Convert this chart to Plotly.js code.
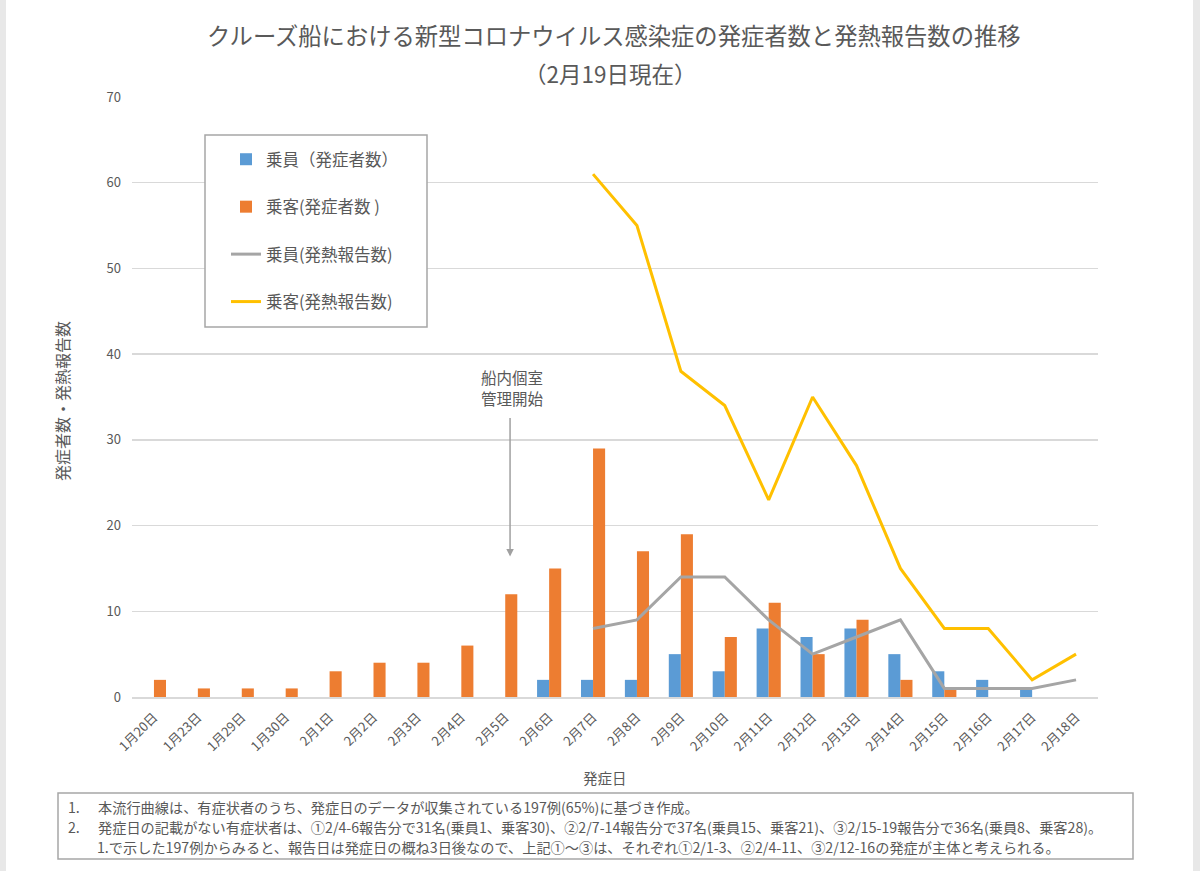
<!DOCTYPE html>
<html>
<head>
<meta charset="utf-8">
<script src="https://cdn.plot.ly/plotly-3.0.1.min.js"></script>
<style>
html,body{margin:0;padding:0;background:#fff;}
#chart{width:1200px;height:871px;}
</style>
</head>
<body>
<div id="chart"></div>
<script>
var categories = ["1月20日","1月23日","1月29日","1月30日","2月1日","2月2日","2月3日","2月4日","2月5日","2月6日","2月7日","2月8日","2月9日","2月10日","2月11日","2月12日","2月13日","2月14日","2月15日","2月16日","2月17日","2月18日"];
var crewOnset      = [0,0,0,0,0,0,0,0,0,2,2,2,5,3,8,7,8,5,3,2,1,0];
var passengerOnset = [2,1,1,1,3,4,4,6,12,15,29,17,19,7,11,5,9,2,1,0,0,0];
var crewFever      = [null,null,null,null,null,null,null,null,null,null,8,9,14,14,9,5,7,9,1,1,1,2];
var passengerFever = [null,null,null,null,null,null,null,null,null,null,61,55,38,34,23,35,27,15,8,8,2,5];
var seriesNames = ["乗員（発症者数）","乗客(発症者数 )","乗員(発熱報告数)","乗客(発熱報告数)"];
var noteLines = [
  "本流行曲線は、有症状者のうち、発症日のデータが収集されている197例(65%)に基づき作成。",
  "発症日の記載がない有症状者は、①2/4-6報告分で31名(乗員1、乗客30)、②2/7-14報告分で37名(乗員15、乗客21)、③2/15-19報告分で36名(乗員8、乗客28)。",
  "1.で示した197例からみると、報告日は発症日の概ね3日後なので、上記①～③は、それぞれ①2/1-3、②2/4-11、③2/12-16の発症が主体と考えられる。"
];
var noteNumbers = ["1.","2.",""];
var markerLines = ["船内個室","管理開始"];

var FONT = '"Noto Sans CJK JP", "Noto Sans", sans-serif';
var GREY = '#595959';

var traces = [
  {type:'bar', name:seriesNames[0], x:categories, y:crewOnset, marker:{color:'#5b9bd5'}, legendgroup:'a'},
  {type:'bar', name:seriesNames[1], x:categories, y:passengerOnset, marker:{color:'#ed7d31'}, legendgroup:'b'},
  {type:'scatter', mode:'lines', name:seriesNames[2], x:categories, y:crewFever, line:{color:'#a5a5a5', width:3}, legendgroup:'c'},
  {type:'scatter', mode:'lines', name:seriesNames[3], x:categories, y:passengerFever, line:{color:'#ffc000', width:3}, legendgroup:'d'}
];

var L=132, R=1098, T=97, B=697;
function px(x){return (x-L)/(R-L);}
function py(y){return (B-y)/(B-T);}

var annotations = [
  {xref:'paper', yref:'paper', x:px(614), y:py(35), text:'クルーズ船における新型コロナウイルス感染症の発症者数と発熱報告数の推移', showarrow:false, font:{family:FONT, size:23.3, color:GREY}, xanchor:'center', yanchor:'middle'},
  {xref:'paper', yref:'paper', x:px(610), y:py(73), text:'（2月19日現在）', showarrow:false, font:{family:FONT, size:22.5, color:GREY}, xanchor:'center', yanchor:'middle'},
  {xref:'paper', yref:'paper', x:px(62), y:py(401), text:'発症者数・発熱報告数', textangle:-90, showarrow:false, font:{family:FONT, size:16, color:GREY}, xanchor:'center', yanchor:'middle'},
  {xref:'paper', yref:'paper', x:px(605), y:py(777), text:'発症日', showarrow:false, font:{family:FONT, size:14.5, color:GREY}, xanchor:'center', yanchor:'middle'},
  {xref:'paper', yref:'paper', x:px(512), y:py(377), text:markerLines[0], showarrow:false, xanchor:'center', yanchor:'middle', borderpad:0, font:{family:FONT, size:15.5, color:GREY}},
  {xref:'paper', yref:'paper', x:px(512), y:py(398), text:markerLines[1], showarrow:false, xanchor:'center', yanchor:'middle', borderpad:0, font:{family:FONT, size:15.5, color:GREY}},
  {xref:'x', yref:'y', x:8.11, y:16.4, text:'', showarrow:true, ax:0, ay:-140, arrowhead:2, arrowsize:1, arrowwidth:1.5, arrowcolor:'#a0a0a0'}
];
var noteY = [807, 827, 847];
for (var i=0;i<noteLines.length;i++){
  if (noteNumbers[i]) annotations.push({xref:'paper', yref:'paper', x:px(67), y:py(noteY[i]), text:noteNumbers[i], showarrow:false, xanchor:'left', yanchor:'middle', borderpad:0, font:{family:FONT, size:14.2, color:GREY}});
  annotations.push({xref:'paper', yref:'paper', x:px(i==2?96:97), y:py(noteY[i]), text:noteLines[i], showarrow:false, xanchor:'left', yanchor:'middle', borderpad:0, font:{family:FONT, size:14.2, color:GREY}});
}

var shapes = [
  {type:'rect', xref:'paper', yref:'paper', x0:px(205), x1:px(427), y0:py(135), y1:py(327), line:{color:'#a6a6a6', width:1.5}, fillcolor:'#ffffff', layer:'above'},
  {type:'rect', xref:'paper', yref:'paper', x0:px(58), x1:px(1133), y0:py(793), y1:py(859), line:{color:'#a6a6a6', width:1.5}},
  {type:'rect', xref:'paper', yref:'paper', x0:px(0), x1:px(6), y0:py(0), y1:py(871), line:{width:0}, fillcolor:'#e8e8e8'},
  {type:'rect', xref:'paper', yref:'paper', x0:px(1193), x1:px(1200), y0:py(0), y1:py(871), line:{width:0}, fillcolor:'#e8e8e8'}
];

var layout = {
  width:1200, height:871,
  margin:{l:L, r:1200-R, t:T, b:871-B, pad:0},
  paper_bgcolor:'#fff', plot_bgcolor:'#fff',
  font:{family:FONT, color:GREY},
  barmode:'group', bargap:0.45, bargroupgap:0,
  showlegend:true,
  legend:{x:px(226), y:py(142), xanchor:'left', yanchor:'top', bgcolor:'rgba(255,255,255,0)', borderwidth:0,
          font:{family:FONT, size:16.5, color:GREY}, traceorder:'grouped', tracegroupgap:23},
  xaxis:{type:'category', tickangle:-45, tickfont:{family:FONT, size:13, color:GREY}, showgrid:false,
         showline:true, linecolor:'#d9d9d9', linewidth:1.5, ticks:'', ticklabelstandoff:6, fixedrange:true},
  yaxis:{range:[0,70], dtick:10, tickfont:{family:FONT, size:13, color:GREY}, gridcolor:'#d9d9d9', gridwidth:1.5,
         zeroline:false, showline:false, ticks:'', ticklabelstandoff:10, fixedrange:true},
  annotations:annotations,
  shapes:shapes
};

Plotly.newPlot('chart', traces, layout, {displayModeBar:false, staticPlot:true});
</script>
</body>
</html>
